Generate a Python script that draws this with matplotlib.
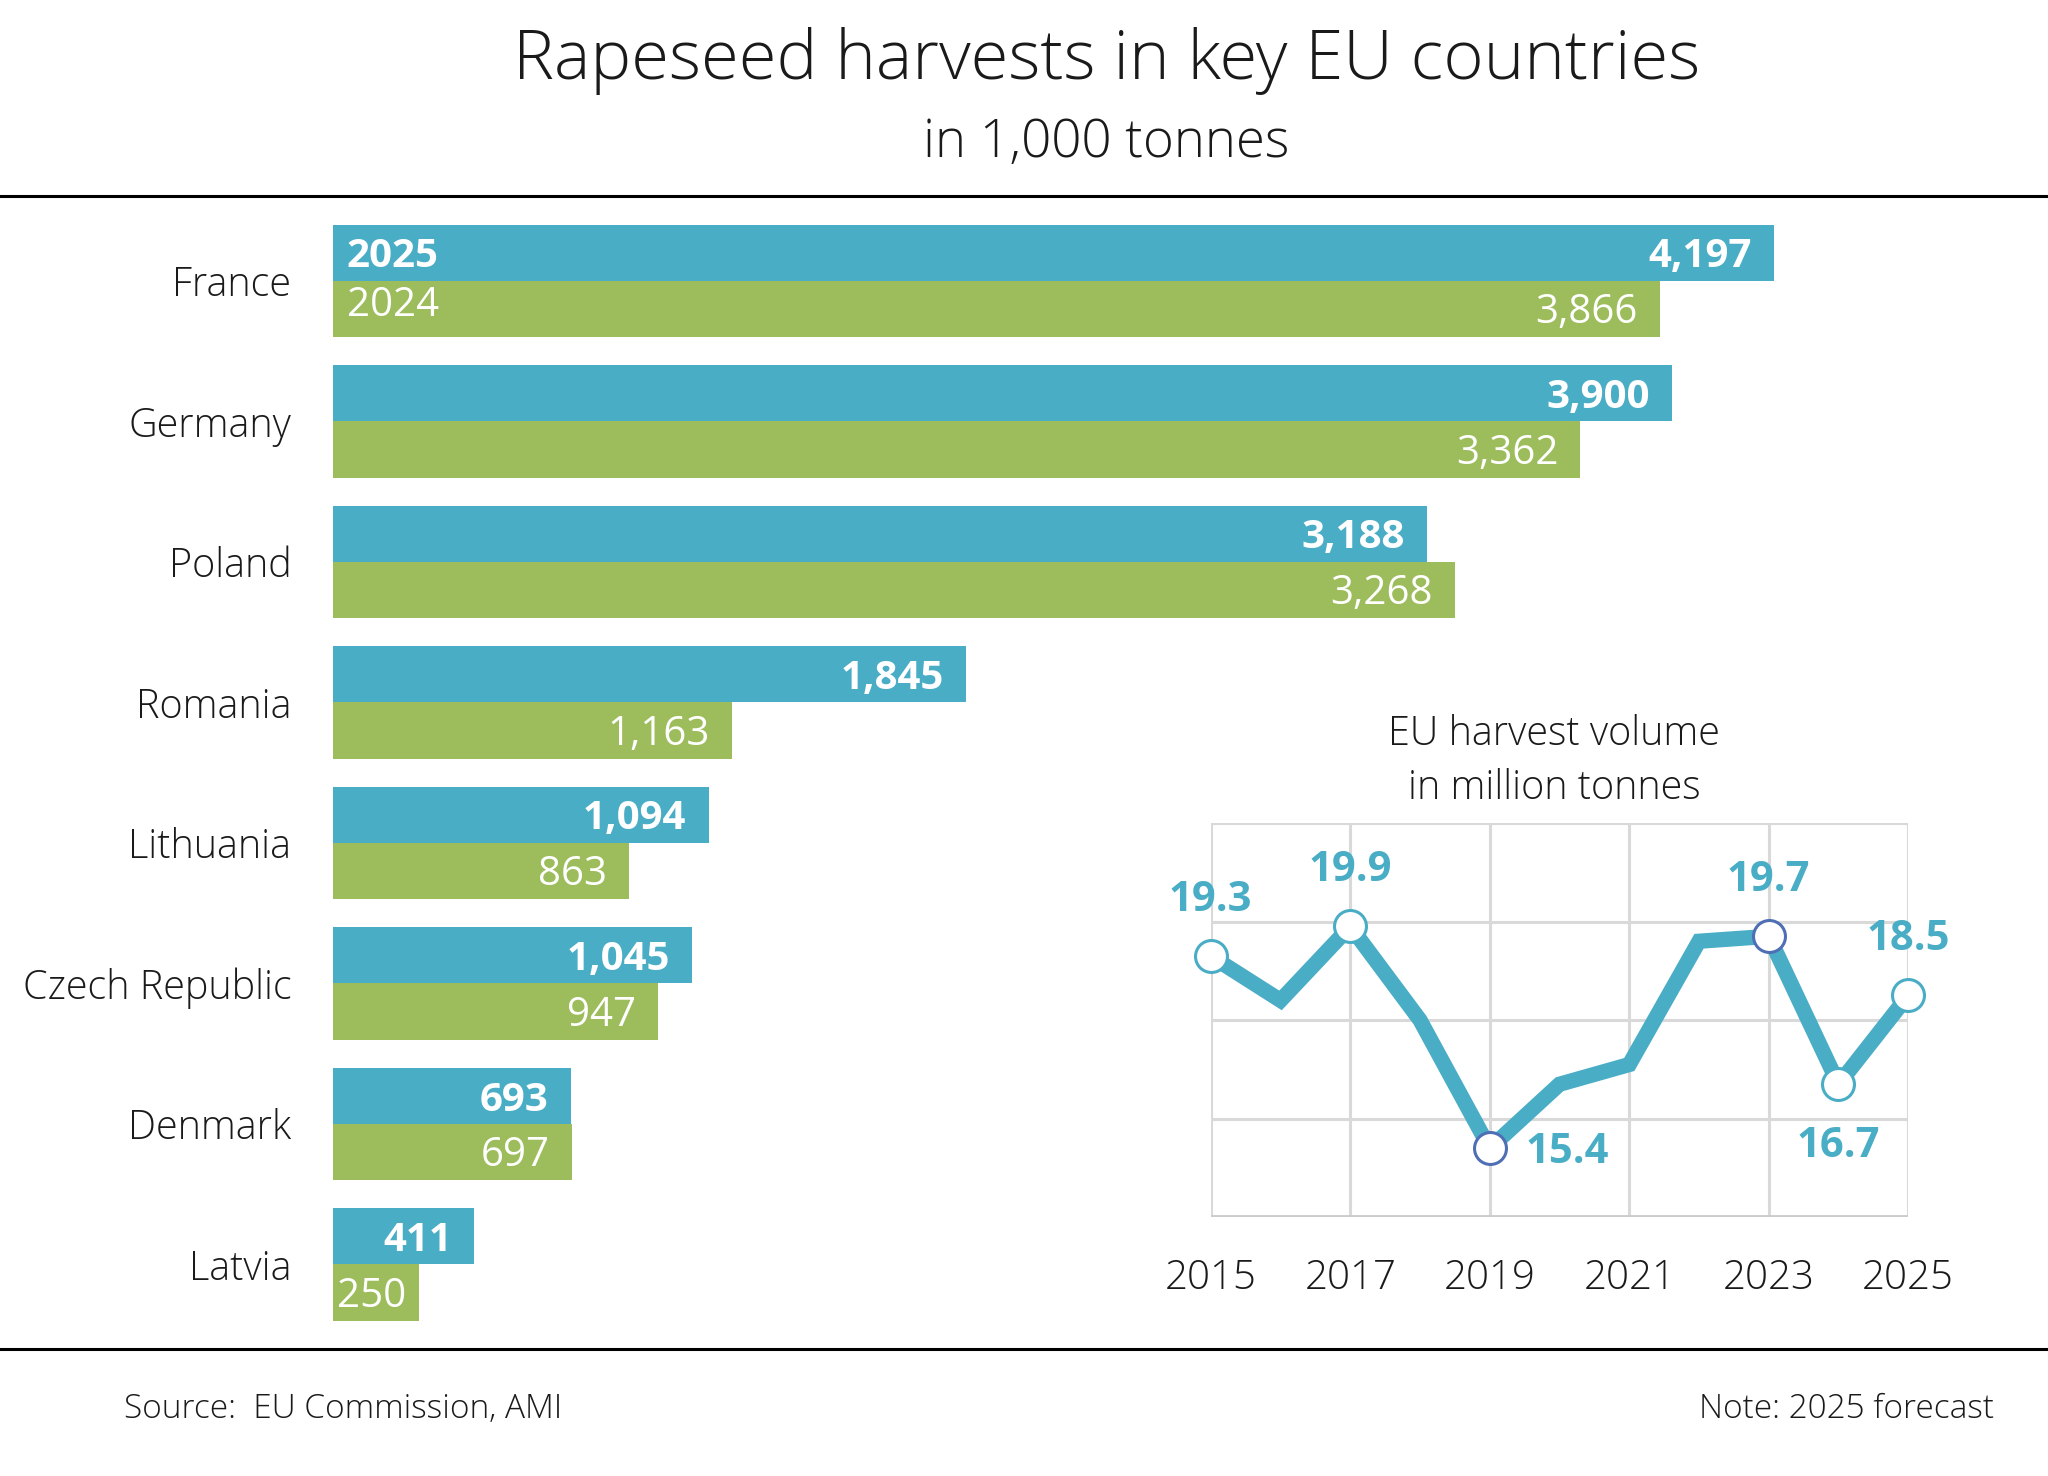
import numpy as np
import matplotlib.pyplot as plt
from matplotlib.lines import Line2D

plt.rcParams['font.family'] = ['Open Sans', 'DejaVu Sans']

# Данные: урожай рапса по странам, тыс. тонн
countries = ['France', 'Germany', 'Poland', 'Romania', 'Lithuania',
             'Czech Republic', 'Denmark', 'Latvia']
harvest_2025 = [4197, 3900, 3188, 1845, 1094, 1045, 693, 411]
# длина столбца Германии 2024 на картинке ~3634, подпись 3,362
harvest_2024 = [3866, 3634, 3268, 1163, 863, 947, 697, 250]
labels_2024 = ['3,866', '3,362', '3,268', '1,163', '863', '947', '697', '250']

# Урожай в ЕС, млн тонн
eu_years = [2015, 2016, 2017, 2018, 2019, 2020, 2021, 2022, 2023, 2024, 2025]
eu_volume = [19.3, 18.4, 19.9, 18.0, 15.4, 16.7, 17.1, 19.6, 19.7, 16.7, 18.5]
marker_years = [2015, 2017, 2019, 2023, 2024, 2025]
dark_marker_years = [2019, 2023]

teal = '#4aadc6'
green = '#9dbd5c'
dark_blue = '#4f6fb5'
grid_gray = '#d9d9d9'
txt = '#1a1a1a'

W, H = 1568, 1130  # размеры макета в "экранных" пикселях


def fx(x):
    return x / W


def fy(y):
    return 1 - y / H


fig = plt.figure(figsize=(20.48, 14.76), dpi=100)

# Заголовки
fig.text(fx(847), fy(47), 'Rapeseed harvests in key EU countries',
         ha='center', va='center', fontsize=49.5, fontweight='light', color=txt)
fig.text(fx(847), fy(110), 'in 1,000 tonnes',
         ha='center', va='center', fontsize=38, fontweight='light', color=txt)

# Горизонтальные линии
fig.add_artist(Line2D([0, 1], [fy(150), fy(150)], color='black', lw=2.2))
fig.add_artist(Line2D([0, 1], [fy(1033), fy(1033)], color='black', lw=2.2))

# Основной график — столбцы
px_per_unit = 0.2628
ax = fig.add_axes([fx(255), fy(1033), 1 - fx(255), (1033 - 150) / H])
ax.set_xlim(0, (W - 255) / px_per_unit)
pitch = 107.6
ax.set_ylim(7 + 65 / pitch, -65 / pitch)

idx = np.arange(len(countries))
h = 0.4
ax.barh(idx - h / 2, harvest_2025, height=h, color=teal)
ax.barh(idx + h / 2, harvest_2024, height=h, color=green)

offset = 17 / px_per_unit
dy = 0.03
for i in idx:
    ax.text(harvest_2025[i] - offset, i - h / 2 + dy, f'{harvest_2025[i]:,}',
            ha='right', va='center', color='white', fontsize=29,
            fontweight='bold')
    if harvest_2024[i] < 300:
        ax.text(3 / px_per_unit, i + h / 2 + dy, labels_2024[i],
                ha='left', va='center', color='white', fontsize=29)
    else:
        ax.text(harvest_2024[i] - offset, i + h / 2 + dy, labels_2024[i],
                ha='right', va='center', color='white', fontsize=29)

ax.text(10 / px_per_unit, -h / 2 + dy, '2025', ha='left', va='center',
        color='white', fontsize=29, fontweight='bold')
ax.text(11 / px_per_unit, h / 2 - 0.02, '2024', ha='left', va='center',
        color='white', fontsize=29)

ax.set_yticks(idx)
ax.set_yticklabels(countries, fontsize=28.5, fontweight='light', color=txt)
ax.tick_params(axis='y', length=0, pad=30)
ax.set_xticks([])
for s in ax.spines.values():
    s.set_visible(False)
ax.patch.set_alpha(0)

# Врезка — линия урожая ЕС
ax2 = fig.add_axes([fx(927), fy(932), (1461 - 927) / W, (932 - 630) / H])
ax2.patch.set_alpha(0)
ax2.set_xlim(2015, 2025)
ax2.set_ylim(14, 22)
ax2.set_xticks([2015, 2017, 2019, 2021, 2023, 2025])
ax2.set_xticklabels(['2015', '2017', '2019', '2021', '2023', '2025'],
                    fontsize=29, fontweight='light', color=txt)
ax2.set_yticks([14, 16, 18, 20, 22])
ax2.set_yticklabels([])
ax2.grid(True, color=grid_gray, lw=2.2)
ax2.set_axisbelow(True)
for s in ax2.spines.values():
    s.set_visible(False)
ax2.tick_params(axis='both', length=0)
ax2.tick_params(axis='x', pad=29)
ax2.axhline(14, color='#cccccc', lw=3.5, zorder=1)

ax2.plot(eu_years, eu_volume, color=teal, lw=11, solid_joinstyle='miter',
         clip_on=False, zorder=3)
for yr in marker_years:
    v = eu_volume[eu_years.index(yr)]
    edge = dark_blue if yr in dark_marker_years else teal
    ax2.plot(yr, v, 'o', ms=23, mfc='white', mec=edge, mew=2.2,
             clip_on=False, zorder=4)

label_offsets = {2015: (0, 40), 2017: (0, 40), 2019: (56, -3),
                 2023: (0, 40), 2024: (0, -45), 2025: (0, 40)}
for yr, (dx, dy2) in label_offsets.items():
    v = eu_volume[eu_years.index(yr)]
    ax2.annotate(f'{v:.1f}', (yr, v), xytext=(dx, dy2),
                 textcoords='offset points', ha='center', va='center',
                 color=teal, fontsize=30, fontweight='bold',
                 annotation_clip=False)

fig.text(fx(1190), fy(562), 'EU harvest volume', ha='center', va='center',
         fontsize=28.5, fontweight='light', color=txt)
fig.text(fx(1190), fy(604), 'in million tonnes', ha='center', va='center',
         fontsize=28.5, fontweight='light', color=txt)

# Подвал
fig.text(fx(95), fy(1079), 'Source:  EU Commission, AMI', ha='left',
         va='center', fontsize=24, fontweight='light', color=txt)
fig.text(fx(1527), fy(1079), 'Note: 2025 forecast', ha='right',
         va='center', fontsize=24, fontweight='light', color=txt)

fig.savefig('out.png', dpi=100)
